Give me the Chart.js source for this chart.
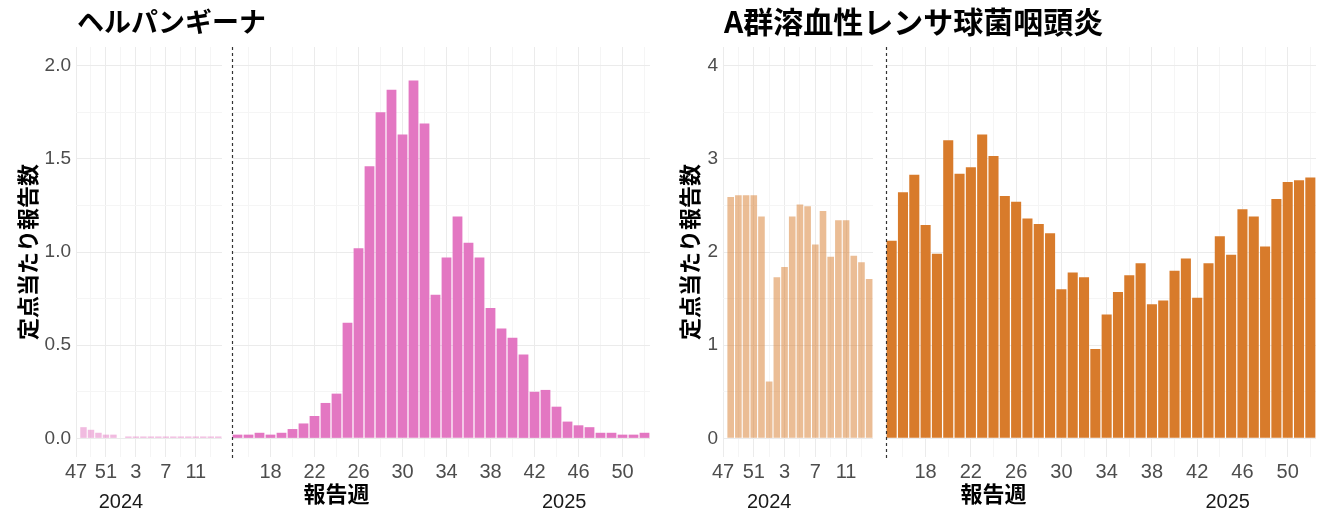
<!DOCTYPE html>
<html>
<head>
<meta charset="utf-8">
<script src="https://cdn.jsdelivr.net/npm/chart.js@4.4.1/dist/chart.umd.min.js"></script>
<style>
  html, body { margin: 0; padding: 0; background: #fff; }
  #wrap { position: relative; width: 1321px; height: 514px; }
  .panel { position: absolute; top: 0; }
</style>
</head>
<body>
<div id="wrap">
  <div class="panel" style="left:0"><canvas id="herpChart" width="660" height="514"></canvas></div>
  <div class="panel" style="left:660px"><canvas id="strepChart" width="661" height="514"></canvas></div>
</div>
<script>
// report weeks: 2024 season runs 47..52 then 1..14, 2025 season 15..52
const weeks2024 = [47, 48, 49, 50, 51, 52, 1, 2, 3, 4, 5, 6, 7, 8, 9, 10, 11, 12, 13, 14];
const weeks2025 = [15, 16, 17, 18, 19, 20, 21, 22, 23, 24, 25, 26, 27, 28, 29, 30, 31, 32, 33,
  34, 35, 36, 37, 38, 39, 40, 41, 42, 43, 44, 45, 46, 47, 48, 49, 50, 51, 52];
const tickWeeks2024 = [47, 51, 3, 7, 11];
const tickWeeks2025 = [18, 22, 26, 30, 34, 38, 42, 46, 50];

// ヘルパンギーナ (per sentinel)
const herpangina2024 = [null, 0.06, 0.046, 0.03, 0.02, 0.02, 0, 0.01, 0.01, 0.01, 0.01, 0.01,
  0.01, 0.01, 0.01, 0.01, 0.01, 0.01, 0.01, 0.01];
const herpangina2025 = [0.02, 0.02, 0.03, 0.02, 0.03, 0.05, 0.08, 0.12, 0.19, 0.24, 0.62, 1.02,
  1.46, 1.75, 1.87, 1.63, 1.92, 1.69, 0.77, 0.97, 1.19, 1.05, 0.97, 0.70, 0.59, 0.54, 0.45,
  0.25, 0.26, 0.17, 0.09, 0.07, 0.06, 0.03, 0.03, 0.02, 0.02, 0.03];
const herpYTicks = [0, 0.5, 1.0, 1.5, 2.0];

// A群溶血性レンサ球菌咽頭炎 (per sentinel)
const strep2024 = [null, 2.59, 2.61, 2.61, 2.61, 2.38, 0.61, 1.73, 1.84, 2.38, 2.51, 2.49,
  2.08, 2.44, 1.95, 2.34, 2.34, 1.96, 1.89, 1.71];
const strep2025 = [2.12, 2.64, 2.83, 2.29, 1.98, 3.20, 2.84, 2.91, 3.26, 3.03, 2.60, 2.54,
  2.36, 2.30, 2.20, 1.60, 1.78, 1.73, 0.96, 1.33, 1.57, 1.75, 1.88, 1.44, 1.48, 1.80, 1.93,
  1.51, 1.88, 2.17, 1.97, 2.46, 2.38, 2.06, 2.57, 2.75, 2.77, 2.80];
const strepYTicks = [0, 1, 2, 3, 4];

const JP = '"Noto Sans CJK JP", sans-serif';
Chart.defaults.font.family = '"Liberation Sans", "Noto Sans CJK JP", sans-serif';

const GRID_MAJOR = '#ebebeb';
const GRID_MINOR = '#f5f5f5';
const X_AXIS_H = 57;

// dashed divider, blank gap between year panels, titles and year labels
const panelDecor = {
  id: 'panelDecor',
  beforeDatasetsDraw(chart) {
    const { ctx, chartArea } = chart;
    const g = chart.scales.xgap;
    ctx.save();
    ctx.fillStyle = '#fff';
    ctx.fillRect(g.left, chartArea.top - 1, g.width, chartArea.height + 2);
    ctx.restore();
  },
  afterDatasetsDraw(chart) {
    const { ctx, chartArea } = chart;
    const x = Math.round(chart.scales.x25.left) + 0.5;
    ctx.save();
    ctx.strokeStyle = '#333';
    ctx.lineWidth = 1.2;
    ctx.setLineDash([3, 3]);
    ctx.beginPath();
    ctx.moveTo(x, chartArea.top);
    ctx.lineTo(x, chartArea.bottom + 3);
    ctx.stroke();
    ctx.restore();
  },
  afterDraw(chart, args, opts) {
    const { ctx, chartArea } = chart;
    const s24 = chart.scales.x24;
    const s25 = chart.scales.x25;
    ctx.save();
    ctx.fillStyle = '#000';
    ctx.textBaseline = 'middle';
    ctx.textAlign = 'left';
    ctx.font = 'bold ' + opts.titleSize + 'px ' + JP;
    ctx.fillText(opts.title, chartArea.left + 1, 22);

    ctx.textAlign = 'center';
    ctx.font = 'bold 22px ' + JP;
    ctx.fillText('報告週', s25.getPixelForValue(24), 494);

    ctx.fillStyle = '#1a1a1a';
    ctx.font = '20px "Liberation Sans", sans-serif';
    ctx.fillText('2024', s24.getPixelForValue(weeks2024.indexOf(1)), 502);
    ctx.fillText('2025', s25.getPixelForValue(44.7), 502);
    ctx.restore();
  }
};

function gridColor(c) {
  return c.tick && c.tick.major ? GRID_MAJOR : GRID_MINOR;
}

function makeChart(id, o) {
  const yMajor = o.yTicks;
  const span = yMajor[yMajor.length - 1] - yMajor[0];
  const ctx = document.getElementById(id).getContext('2d');

  return new Chart(ctx, {
    type: 'bar',
    data: {
      datasets: [
        {
          label: '2024',
          xAxisID: 'x24',
          data: weeks2024.map((w, i) => ({ x: i, y: o.data2024[i] })),
          backgroundColor: o.lightColor,
          grouped: false,
          barPercentage: 0.86,
          categoryPercentage: 1,
        },
        {
          label: '2025',
          xAxisID: 'x25',
          data: weeks2025.map((w, i) => ({ x: w, y: o.data2025[i] })),
          backgroundColor: o.color,
          grouped: false,
          barPercentage: 0.89,
          categoryPercentage: 1,
        },
      ],
    },
    options: {
      responsive: false,
      animation: false,
      layout: { padding: { top: 47, right: o.padRight, left: 0, bottom: 0 } },
      plugins: {
        legend: { display: false },
        tooltip: { enabled: false },
        panelDecor: { title: o.title, titleSize: o.titleSize },
      },
      scales: {
        x24: {
          type: 'linear',
          position: 'bottom',
          stack: 'weeks',
          stackWeight: o.w24,
          weight: 0,
          offset: false,
          min: 0,
          max: weeks2024.length - 0.5,
          afterBuildTicks: (s) => {
            const t = [];
            for (let i = 0; i < weeks2024.length - 1; i += 2) {
              t.push({ value: i, major: tickWeeks2024.includes(weeks2024[i]) });
            }
            s.ticks = t;
          },
          afterFit: (s) => { s.height = X_AXIS_H; },
          grid: { color: gridColor, lineWidth: 1, drawTicks: false, offset: false },
          border: { display: false },
          ticks: {
            autoSkip: false,
            maxRotation: 0,
            padding: 3,
            color: '#4d4d4d',
            font: { size: 20 },
            callback: (v, i, ticks) => (ticks[i].major ? String(weeks2024[v]) : ''),
          },
        },
        xgap: {
          type: 'linear',
          position: 'bottom',
          stack: 'weeks',
          stackWeight: o.wGap,
          weight: 1,
          offset: false,
          grid: { display: false },
          border: { display: false },
          ticks: { display: false },
        },
        x25: {
          type: 'linear',
          position: 'bottom',
          stack: 'weeks',
          stackWeight: o.w25,
          weight: 2,
          offset: false,
          min: weeks2025[0] - 0.5,
          max: weeks2025[weeks2025.length - 1] + 0.5,
          afterBuildTicks: (s) => {
            const t = [];
            for (let w = weeks2025[1]; w <= weeks2025[weeks2025.length - 1]; w += 2) {
              t.push({ value: w, major: tickWeeks2025.includes(w) });
            }
            s.ticks = t;
          },
          afterFit: (s) => { s.height = X_AXIS_H; },
          grid: { color: gridColor, lineWidth: 1, drawTicks: false, offset: false },
          border: { display: false },
          ticks: {
            autoSkip: false,
            maxRotation: 0,
            padding: 3,
            color: '#4d4d4d',
            font: { size: 20 },
            callback: (v, i, ticks) => (ticks[i].major ? String(v) : ''),
          },
        },
        y: {
          type: 'linear',
          position: 'left',
          min: yMajor[0] - span * 0.05,
          max: yMajor[yMajor.length - 1] + span * 0.05,
          afterBuildTicks: (s) => {
            const t = [];
            yMajor.forEach((v, i) => {
              t.push({ value: v, major: true });
              if (i < yMajor.length - 1) t.push({ value: (v + yMajor[i + 1]) / 2, major: false });
            });
            s.ticks = t;
          },
          afterFit: (s) => { s.width = o.yWidth; },
          grid: { color: gridColor, lineWidth: 1, drawTicks: false },
          border: { display: false },
          ticks: {
            padding: 5,
            color: '#4d4d4d',
            font: { size: 19 },
            callback: (v, i, ticks) => (ticks[i].major ? o.yFormat(v) : ''),
          },
          title: {
            display: true,
            text: '定点当たり報告数',
            color: '#000',
            font: { family: JP, size: 22, weight: 'bold', lineHeight: 1.2 },
            padding: { top: o.yTitlePad, bottom: 0 },
          },
        },
      },
    },
    plugins: [panelDecor],
  });
}

makeChart('herpChart', {
  title: 'ヘルパンギーナ',
  titleSize: 27,
  data2024: herpangina2024,
  data2025: herpangina2025,
  yTicks: herpYTicks,
  yFormat: (v) => v.toFixed(1),
  color: '#e377c2',
  lightColor: 'rgba(227, 119, 194, 0.5)',
  yWidth: 76,
  padRight: 10,
  yTitlePad: 14,
  w24: 146,
  wGap: 10,
  w25: 418,
});

makeChart('strepChart', {
  title: 'A群溶血性レンサ球菌咽頭炎',
  titleSize: 30,
  data2024: strep2024,
  data2025: strep2025,
  yTicks: strepYTicks,
  yFormat: (v) => String(v),
  color: '#d87b2b',
  lightColor: 'rgba(216, 123, 43, 0.5)',
  yWidth: 63,
  padRight: 5,
  yTitlePad: 16,
  w24: 150,
  wGap: 13,
  w25: 430,
});
</script>
</body>
</html>
